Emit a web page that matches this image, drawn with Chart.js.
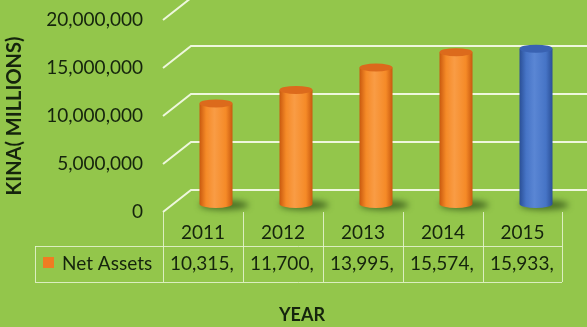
<!DOCTYPE html>
<html>
<head>
<meta charset="utf-8">
<script src="https://cdn.jsdelivr.net/npm/chart.js@4"></script>
<style>
  html, body { margin: 0; padding: 0; background: #93c64b; }
  #wrap { width: 587px; height: 327px; }
</style>
</head>
<body>
<div id="wrap"><canvas id="grafica" width="587" height="327"></canvas></div>
<script>
// net assets per year (kina)
const years = ['2011', '2012', '2013', '2014', '2015'];
const netAssets = [10315000, 11700000, 13995000, 15574000, 15933000];
const seriesName = 'Net Assets';
const yTicks = [0, 5000000, 10000000, 15000000, 20000000];

const ink = '#15240d';
const lineCol = '#eef7dd';
const orange = { dark: '#c9590f', mid: '#f58a27', light: '#f99c45', top: '#dc6a1c' };
const blue = { dark: '#2a4f96', mid: '#4674c6', light: '#5a86d4', top: '#3962b2' };
const barColors = [orange, orange, orange, orange, blue];

// table columns under the plot
const tbl = { left: 35, colStart: 163, colW: 80, right: 562, top: 212, rowTop: 246, rowBottom: 282 };

function fmt(v) { return v.toLocaleString('en-US'); }

function ellipse(ctx, x, y, rx, ry) {
  ctx.beginPath();
  ctx.ellipse(x, y, rx, ry, 0, 0, Math.PI * 2);
  ctx.fill();
}

function cylinder(ctx, x, top, base, w, c) {
  const r = w / 2, ry = 4;
  // base shadow
  ctx.save();
  ctx.filter = 'blur(3px)';
  ctx.fillStyle = 'rgba(35,65,15,0.65)';
  ellipse(ctx, x + 8, base + 1, r + 8, 5);
  ctx.restore();

  const g = ctx.createLinearGradient(x - r, 0, x + r, 0);
  g.addColorStop(0, c.dark);
  g.addColorStop(0.2, c.mid);
  g.addColorStop(0.45, c.light);
  g.addColorStop(0.8, c.mid);
  g.addColorStop(1, c.dark);
  ctx.fillStyle = g;
  ctx.beginPath();
  ctx.moveTo(x - r, top);
  ctx.lineTo(x - r, base);
  ctx.ellipse(x, base, r, ry, 0, Math.PI, 0, true);
  ctx.lineTo(x + r, top);
  ctx.closePath();
  ctx.fill();

  ctx.fillStyle = c.top;
  ellipse(ctx, x, top, r, ry);
}

const wallPlugin = {
  id: 'wall',
  beforeDraw(chart) {
    const ctx = chart.ctx;
    ctx.save();
    ctx.fillStyle = '#93c64b';
    ctx.fillRect(0, 0, chart.width, chart.height);
    ctx.restore();
  },
  beforeDatasetsDraw(chart) {
    const ctx = chart.ctx, y = chart.scales.y;
    ctx.save();
    ctx.strokeStyle = lineCol;
    ctx.lineWidth = 2;
    y.ticks.forEach(t => {
      const yf = y.getPixelForValue(t.value);
      const yb = yf - 22;
      ctx.beginPath();
      ctx.moveTo(tbl.colStart, yf);
      ctx.lineTo(191, yb);
      ctx.lineTo(chart.width, yb);
      ctx.stroke();
    });
    ctx.restore();
  },
  afterDatasetsDraw(chart) {
    const ctx = chart.ctx;
    const meta = chart.getDatasetMeta(0);
    meta.data.forEach((bar, i) => {
      cylinder(ctx, bar.x, bar.y, bar.base, bar.width, barColors[i]);
    });
  },
  afterDraw(chart) {
    const ctx = chart.ctx;
    ctx.save();
    // table grid
    ctx.strokeStyle = 'rgba(232,245,212,0.85)';
    ctx.lineWidth = 1;
    ctx.beginPath();
    ctx.moveTo(tbl.left, tbl.rowTop + 0.5); ctx.lineTo(tbl.right, tbl.rowTop + 0.5);
    ctx.moveTo(tbl.left, tbl.rowBottom + 0.5); ctx.lineTo(tbl.right, tbl.rowBottom + 0.5);
    ctx.moveTo(tbl.left + 0.5, tbl.rowTop); ctx.lineTo(tbl.left + 0.5, tbl.rowBottom);
    for (let i = 0; i <= years.length; i++) {
      const x = i === years.length ? tbl.right : tbl.colStart + i * tbl.colW;
      ctx.moveTo(x + 0.5, tbl.top); ctx.lineTo(x + 0.5, tbl.rowBottom);
    }
    ctx.stroke();

    ctx.fillStyle = ink;
    ctx.font = '19px Lato';
    ctx.textBaseline = 'middle';
    years.forEach((yr, i) => {
      const x0 = tbl.colStart + i * tbl.colW;
      const x1 = i === years.length - 1 ? tbl.right : x0 + tbl.colW;
      ctx.textAlign = 'center';
      ctx.fillText(yr, (x0 + x1) / 2, 233);
      // value cell: keep only the characters that fit
      let s = fmt(netAssets[i]);
      while (s.length && ctx.measureText(s).width > x1 - x0 - 10) s = s.slice(0, -1);
      ctx.textAlign = 'left';
      ctx.fillText(s, x0 + 7, 264);
    });

    // legend key
    ctx.fillStyle = '#f07c22';
    ctx.fillRect(43, 257, 11, 11);
    ctx.fillStyle = ink;
    ctx.textAlign = 'left';
    ctx.fillText(seriesName, 62, 264);

    ctx.font = 'bold 18px Lato';
    ctx.textAlign = 'center';
    ctx.fillText('YEAR', 302, 315);
    ctx.restore();
  }
};

const grafica = document.getElementById('grafica');
const chart = new Chart(grafica, {
  type: 'bar',
  data: {
    labels: years,
    datasets: [{
      label: seriesName,
      data: netAssets,
      yAxisID: 'yBar',
      backgroundColor: 'rgba(0,0,0,0)',
      barPercentage: 33 / 80,
      categoryPercentage: 1
    }]
  },
  options: {
    responsive: false,
    animation: false,
    layout: { padding: { top: 20, bottom: 115, right: 11, left: 0 } },
    plugins: { legend: { display: false }, tooltip: { enabled: false } },
    scales: {
      x: { display: false },
      y: {
        min: 0,
        max: 20000000,
        afterFit(scale) {
          scale.width = 176;
          scale.paddingTop = 0;
          scale.paddingBottom = 0;
        },
        afterBuildTicks(scale) { scale.ticks = yTicks.map(v => ({ value: v })); },
        grid: { display: false, drawTicks: false },
        border: { display: false },
        ticks: {
          padding: 33,
          color: ink,
          font: { family: 'Lato', size: 19 },
          callback: v => fmt(v)
        },
        title: {
          display: true,
          text: 'KINA( MILLIONS)',
          color: ink,
          font: { family: 'Lato', size: 20, weight: 'bold' },
          padding: { top: 3, bottom: 0 }
        }
      },
      // cylinders sit mid-depth, slightly above the front floor edge
      yBar: {
        display: false,
        min: -820000,
        max: 18870000
      }
    }
  },
  plugins: [wallPlugin]
});
</script>
</body>
</html>
